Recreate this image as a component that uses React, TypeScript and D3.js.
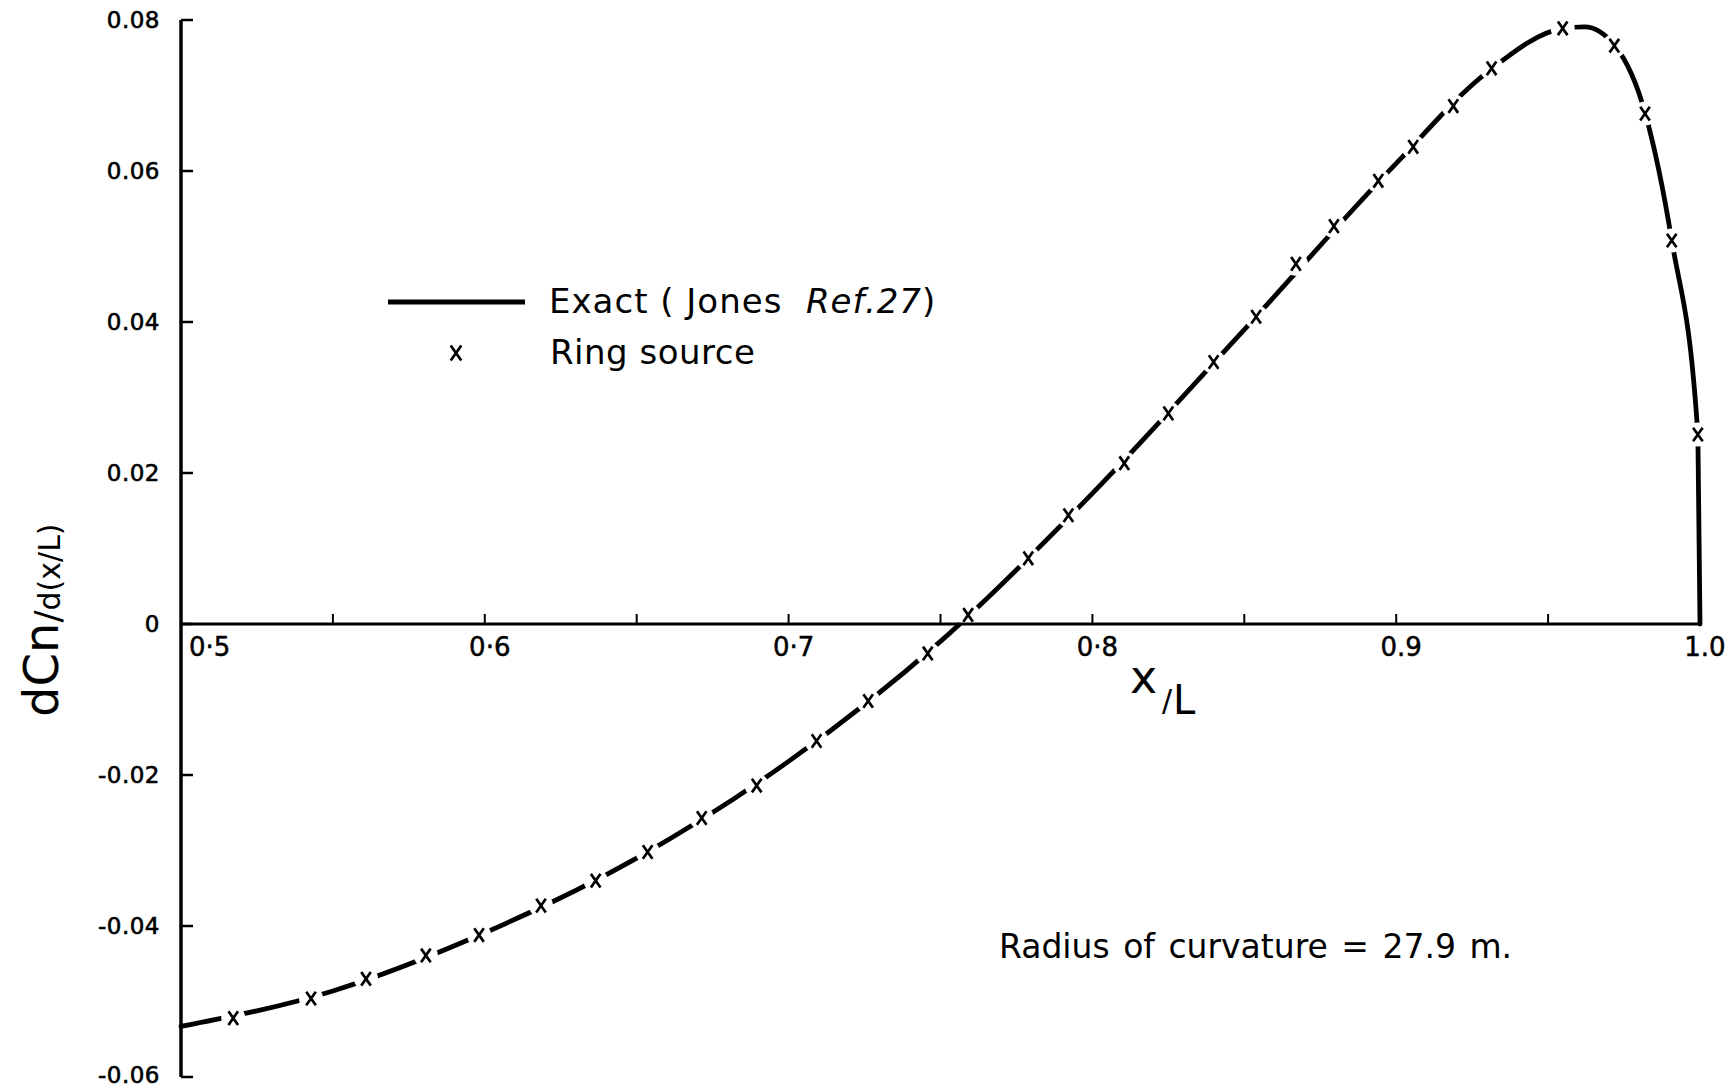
import React from 'react';
import * as d3 from 'd3';

const W = 1730, H = 1090;
const FONT = '"DejaVu Sans", "Open Sans", sans-serif';

// ring source results (the x marks)
const ringX = [0.5172, 0.5428, 0.5609, 0.5806, 0.5981, 0.6185, 0.6365, 0.6536, 0.6714, 0.6895, 0.7092,
  0.7262, 0.7458, 0.7591, 0.7789, 0.7921, 0.8105, 0.825, 0.8399, 0.8539, 0.867, 0.8795, 0.8941,
  0.9056, 0.9188, 0.9314, 0.9548, 0.9718, 0.9819, 0.9907, 0.9993];
const ringY = [-0.0522, -0.0496, -0.047, -0.0439, -0.0412, -0.0373, -0.034, -0.0302, -0.0257, -0.0214, -0.0155,
  -0.0102, -0.0039, 0.0012, 0.0087, 0.0144, 0.0213, 0.0279, 0.0347, 0.0407, 0.0477, 0.0527, 0.0587,
  0.0632, 0.0686, 0.0736, 0.0789, 0.0766, 0.0676, 0.0508, 0.0251];

// exact solution (Jones, Ref.27)
const exactX = [0.5, 0.55, 0.6, 0.65, 0.7, 0.75, 0.8, 0.85, 0.9, 0.93, 0.955, 0.962, 0.972, 0.982, 0.9907, 0.9993, 1.0];
const exactY = [-0.0533, -0.0486, -0.0409, -0.031, -0.0182, -0.0023, 0.0173, 0.039, 0.061, 0.0731, 0.0789, 0.0791,
  0.0766, 0.0676, 0.0508, 0.0251, 0];

const yTicks = [0.08, 0.06, 0.04, 0.02, 0, -0.02, -0.04, -0.06];
const yTickLabels = ['0.08', '0.06', '0.04', '0.02', '0', '-0.02', '-0.04', '-0.06'];
const xTicks = [0.55, 0.6, 0.65, 0.7, 0.75, 0.8, 0.85, 0.9, 0.95];
const xLabelVals = [0.5, 0.6, 0.7, 0.8, 0.9, 1.0];
const xLabels = ['0·5', '0·6', '0·7', '0·8', '0.9', '1.0'];

const x = d3.scaleLinear().domain([0.5, 1.0]).range([181, 1700]);
const y = d3.scaleLinear().domain([-0.06, 0.08]).range([1077, 20]);

const exactLine = d3.line<number>()
  .x((d, i) => x(exactX[i]))
  .y(d => y(d))
  .curve(d3.curveMonotoneX);

const Cross = ({ cx, cy, s = 1 }: { cx: number, cy: number, s?: number }) => (
  <path d={`M${cx - 4.8 * s},${cy - 6.8 * s}L${cx + 4.8 * s},${cy + 6.8 * s}M${cx + 4.8 * s},${cy - 6.8 * s}L${cx - 4.8 * s},${cy + 6.8 * s}`}
    stroke="#000" strokeWidth={2.7} fill="none" />
);

export default function App() {
  const x0 = x(0.5), y0 = y(0);
  return (
    <svg width={W} height={H} style={{ position: 'absolute', left: 0, top: 0, background: '#fff' }}
      fontFamily={FONT}>
      <defs>
        <mask id="markGaps" maskUnits="userSpaceOnUse" x={0} y={0} width={W} height={H}>
          <rect x={0} y={0} width={W} height={H} fill="#fff" />
          {ringX.map((v, i) => <circle key={i} cx={x(v)} cy={y(ringY[i])} r={12} fill="#000" />)}
        </mask>
      </defs>
      <rect width={W} height={H} fill="#fff" />

      {/* y axis */}
      <line x1={x0} x2={x0} y1={y(0.08)} y2={y(-0.06)} stroke="#000" strokeWidth={3.5} />
      {yTicks.map((t, i) => (
        <g key={t}>
          <line x1={x0} x2={x0 + 12} y1={y(t)} y2={y(t)} stroke="#000" strokeWidth={2.5} />
          <text x={160} y={Math.min(y(t) + 1, H - 14)} textAnchor="end" dominantBaseline="middle" fontSize={23}
            letterSpacing={0.5} stroke="#000" strokeWidth={0.6}>{yTickLabels[i]}</text>
        </g>
      ))}

      {/* x axis drawn at zero */}
      <line x1={x0} x2={x(1.0)} y1={y0} y2={y0} stroke="#000" strokeWidth={3} />
      {xTicks.map(t => (
        <line key={t} x1={x(t)} x2={x(t)} y1={y0} y2={y0 - 10} stroke="#000" strokeWidth={2} />
      ))}
      {xLabelVals.map((v, i) => (
        <text key={v} x={i === 0 ? x(v) + 8 : x(v) + 5} y={656} fontSize={26}
          textAnchor={i === 0 ? 'start' : 'middle'} stroke="#000" strokeWidth={0.5}>{xLabels[i]}</text>
      ))}

      {/* axis titles */}
      <text x={1130} y={693} fontSize={46}>x</text>
      <text x={1162} y={711} fontSize={30}>/</text>
      <text x={1173} y={714} fontSize={40} letterSpacing={0}>L</text>
      <text transform="translate(58, 717) rotate(-90)">
        <tspan fontSize={48}>dCn</tspan>
        <tspan fontSize={36} dy={2}>/</tspan>
        <tspan fontSize={30}>d(x/L)</tspan>
      </text>

      {/* exact curve, broken at each ring source mark */}
      <path d={exactLine(exactY) || ''} fill="none" stroke="#000" strokeWidth={4.8}
        strokeLinecap="round" mask="url(#markGaps)" />
      {ringX.map((v, i) => <Cross key={i} cx={x(v)} cy={y(ringY[i])} />)}

      {/* legend */}
      <line x1={388} x2={525} y1={302} y2={302} stroke="#000" strokeWidth={5} />
      <text x={549} y={313} fontSize={34} letterSpacing={1} xmlSpace="preserve">Exact ( Jones  <tspan fontStyle="italic">Ref.27</tspan>)</text>
      <Cross cx={456} cy={353} s={1.1} />
      <text x={550} y={364} fontSize={34} letterSpacing={0.5}>Ring source</text>

      <text x={999} y={958} fontSize={33} wordSpacing={3}>Radius of curvature = 27.9 m.</text>
    </svg>
  );
}
